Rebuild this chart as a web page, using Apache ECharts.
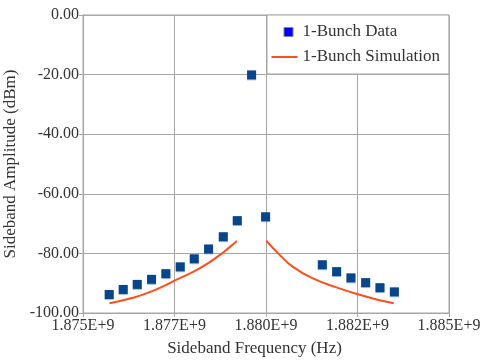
<!DOCTYPE html>
<html>
<head>
<meta charset="utf-8">
<script src="https://cdn.jsdelivr.net/npm/echarts@6/dist/echarts.min.js"></script>
<style>
html,body{margin:0;padding:0;background:#fff;}
#chart{width:483px;height:363px;}
</style>
</head>
<body>
<div id="chart"></div>
<script>
// Measured data (frequency in Hz, amplitude in dBm)
var dataFreq = [1875716000, 1876099000, 1876482000, 1876873000, 1877264000, 1877657000, 1878040000, 1878431000, 1878833000, 1879215000, 1879606000, 1879989000, 1881539000, 1881930000, 1882321000, 1882723000, 1883114000, 1883507000];
var dataAmp  = [-93.8, -92.1, -90.4, -88.7, -86.8, -84.5, -81.8, -78.5, -74.4, -69.0, -20.1, -67.7, -83.8, -86.1, -88.2, -89.8, -91.5, -92.9];

// Simulation, lower branch and upper branch
var simLowFreq = [1875724000, 1876361000, 1876908000, 1877529000, 1878185000, 1878732000, 1879005000, 1879205000];
var simLowAmp  = [-96.7, -94.9, -92.6, -89.0, -85.0, -80.6, -77.9, -75.8];
var simHighFreq = [1880008000, 1880372000, 1880735000, 1881282000, 1881922000, 1882559000, 1883105000, 1883488000];
var simHighAmp  = [-75.7, -80.5, -84.5, -88.4, -91.4, -93.9, -95.7, -96.7];

var xTickLabels = ['1.875E+9', '1.877E+9', '1.880E+9', '1.882E+9', '1.885E+9'];
var yTickLabels = ['-100.00', '-80.00', '-60.00', '-40.00', '-20.00', '0.00'];

function zip(a, b) { return a.map(function (v, i) { return [v, b[i]]; }); }

var FONT = '"Liberation Serif", "Times New Roman", serif';
var TXT = '#333';
var GRIDC = '#a6a6a6';

var chart = echarts.init(document.getElementById('chart'), null, {renderer: 'canvas'});
chart.setOption({
  animation: false,
  backgroundColor: '#fff',
  grid: {left: 83, top: 15, width: 366, height: 298, show: true, borderColor: GRIDC, borderWidth: 1,
    containLabel: false, outerBoundsMode: 'none'},
  legend: {
    orient: 'vertical',
    left: 267, top: 15,
    padding: [8, 9, 8, 4],
    itemGap: 7,
    itemWidth: 26, itemHeight: 10,
    backgroundColor: '#fff',
    borderColor: GRIDC, borderWidth: 1, borderRadius: 0,
    textStyle: {fontFamily: FONT, fontSize: 17, color: TXT, lineHeight: 18},
    data: [
      {name: '1-Bunch Data', icon: 'path://M0,0M26,10M12.5,0.5L21.5,0.5L21.5,9.5L12.5,9.5Z', itemStyle: {color: '#0000ff', borderColor: '#8080a0', borderWidth: 1}},
      {name: '1-Bunch Simulation', icon: 'path://M0,4L26,4L26,6L0,6Z', itemStyle: {color: '#ff4f1f', borderWidth: 0}}
    ]
  },
  xAxis: {
    type: 'value', min: 1875000000, max: 1885000000, interval: 2500000,
    name: 'Sideband Frequency (Hz)', nameLocation: 'middle', nameGap: 27,
    nameTextStyle: {fontFamily: FONT, fontSize: 17, color: TXT, padding: [0, 23, 0, 0]},
    axisLine: {show: true, onZero: false, lineStyle: {color: GRIDC, width: 1}},
    axisTick: {show: true, inside: false, length: 4, lineStyle: {color: GRIDC}},
    axisLabel: {fontFamily: FONT, fontSize: 16, color: TXT, margin: 5, showMinLabel: true, showMaxLabel: true,
      formatter: function (v, i) { return xTickLabels[i]; }},
    splitLine: {show: true, lineStyle: {color: GRIDC, width: 1}}
  },
  yAxis: {
    type: 'value', min: -100, max: 0, interval: 20,
    name: 'Sideband Amplitude (dBm)', nameLocation: 'middle', nameGap: 55, nameRotate: 90,
    nameTextStyle: {fontFamily: FONT, fontSize: 17, color: TXT},
    axisLine: {show: true, onZero: false, lineStyle: {color: GRIDC, width: 1}},
    axisTick: {show: true, inside: false, length: 4, lineStyle: {color: GRIDC}},
    axisLabel: {fontFamily: FONT, fontSize: 16, color: TXT, margin: 4,
      formatter: function (v, i) { return yTickLabels[i]; }},
    splitLine: {show: true, lineStyle: {color: GRIDC, width: 1}}
  },
  series: [
    {
      name: '1-Bunch Simulation', type: 'line', data: zip(simLowFreq, simLowAmp),
      smooth: 0.5, symbol: 'none', lineStyle: {color: '#ff4f1f', width: 2}, itemStyle: {color: '#ff4f1f'}, z: 2
    },
    {
      name: '1-Bunch Simulation', type: 'line', data: zip(simHighFreq, simHighAmp),
      smooth: 0.5, symbol: 'none', lineStyle: {color: '#ff4f1f', width: 2}, itemStyle: {color: '#ff4f1f'}, z: 2
    },
    {
      name: '1-Bunch Data', type: 'scatter', data: zip(dataFreq, dataAmp),
      symbol: 'rect', symbolSize: 9,
      itemStyle: {color: '#07468b', opacity: 1, shadowColor: 'rgba(60,110,180,0.45)', shadowOffsetY: 1, shadowBlur: 0},
      z: 3
    }
  ]
});
</script>
</body>
</html>
